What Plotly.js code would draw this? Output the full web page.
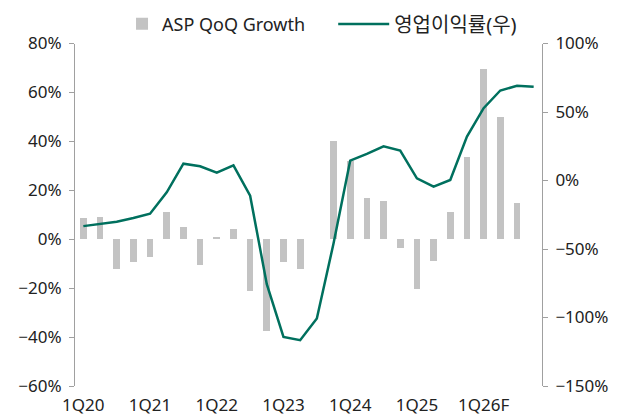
<!DOCTYPE html>
<html>
<head>
<meta charset="utf-8">
<script src="https://cdn.plot.ly/plotly-3.0.1.min.js"></script>
<style>html,body{margin:0;padding:0;background:#fff;}#chart{width:629px;height:419px;}</style>
</head>
<body>
<div id="chart"></div>
<script>
// Quarter categories
const quarters = ['1Q20','2Q20','3Q20','4Q20','1Q21','2Q21','3Q21','4Q21',
  '1Q22','2Q22','3Q22','4Q22','1Q23','2Q23','3Q23','4Q23',
  '1Q24','2Q24','3Q24','4Q24','1Q25','2Q25','3Q25','4Q25',
  '1Q26F','2Q26F','3Q26F','4Q26F'];
// ASP QoQ Growth (%), left axis
const aspGrowth = [8.6, 9.1, -12.2, -9.3, -7.1, 11.3, 4.9, -10.4,
  1.1, 4.2, -21.0, -37.4, -9.4, -12.0, null, 40.1,
  32.1, 17.0, 15.8, -3.7, -20.2, -9.0, 11.0, 33.5,
  69.5, 49.9, 14.9, null];
// 영업이익률 (%), right axis
const opMargin = [-33.3, -31.6, -30.1, -27.4, -24.2, -8.6, 12.3, 10.4,
  5.7, 11.1, -11.1, -75.7, -114.2, -116.6, -100.7, -46.0,
  14.5, 19.4, 25.0, 21.8, 1.6, -4.5, 0.4, 32.0,
  52.8, 65.7, 69.1, 68.4];
const leftTicks = [-60, -40, -20, 0, 20, 40, 60, 80];
const rightTicks = [-150, -100, -50, 0, 50, 100];

const pct = v => (v < 0 ? '\u2212' + Math.abs(v) : String(v)) + '%';
const idx = quarters.map((q, i) => i);
const labelIdx = idx.filter(i => quarters[i].startsWith('1Q'));
const labelText = labelIdx.map(i => quarters[i]);
const boundaryIdx = labelIdx.slice(1).map(i => i - 0.5);

const FONT = '"Noto Sans", "Noto Sans CJK KR", sans-serif';
const AXC = '#a0a0a0';
const TXT = '#222222';

const traces = [
  {
    type: 'bar', x: idx, y: aspGrowth, name: 'ASP QoQ Growth',
    marker: {color: '#c3c3c3'}, width: 0.4, yaxis: 'y', legend: 'legend',
    hoverinfo: 'skip'
  },
  {
    type: 'scatter', mode: 'lines', x: idx, y: opMargin, name: '영업이익률(우)',
    line: {color: '#00705e', width: 2.5}, yaxis: 'y2', legend: 'legend2',
    hoverinfo: 'skip'
  }
];

const range = [-0.5, quarters.length - 0.5];
const layout = {
  width: 629, height: 419,
  margin: {l: 75, r: 87.3, t: 43, b: 33},
  paper_bgcolor: '#fff', plot_bgcolor: '#fff',
  font: {family: FONT, size: 17, color: TXT},
  showlegend: true,
  bargap: 0,
  xaxis: {
    range: range, tickmode: 'array', tickvals: labelIdx, ticktext: labelText,
    showline: false, showgrid: false, zeroline: false, ticks: '',
    ticklabelstandoff: 7,
    tickfont: {size: 17, color: TXT}, fixedrange: true
  },
  xaxis2: {
    range: range, overlaying: 'x', anchor: 'free',
    position: (0 - leftTicks[0]) / (leftTicks[leftTicks.length - 1] - leftTicks[0]),
    showline: true, linecolor: AXC, linewidth: 1,
    tickmode: 'array', tickvals: boundaryIdx, ticks: 'outside', ticklen: 5,
    tickcolor: AXC, showticklabels: false, showgrid: false, zeroline: false
  },
  yaxis: {
    range: [leftTicks[0], leftTicks[leftTicks.length - 1]],
    tickmode: 'array', tickvals: leftTicks, ticktext: leftTicks.map(pct),
    showline: true, linecolor: AXC, ticks: 'outside', ticklen: 5, tickcolor: AXC,
    showgrid: false, zeroline: false, ticklabelstandoff: 4,
    tickfont: {size: 17, color: TXT}
  },
  yaxis2: {
    range: [rightTicks[0], rightTicks[rightTicks.length - 1]],
    overlaying: 'y', side: 'right',
    tickmode: 'array', tickvals: rightTicks, ticktext: rightTicks.map(pct),
    showline: true, linecolor: AXC, ticks: 'outside', ticklen: 5, tickcolor: AXC,
    showgrid: false, zeroline: false, ticklabelstandoff: 4,
    tickfont: {size: 17, color: TXT}
  },
  legend: {
    orientation: 'h', x: 0.1007, xref: 'paper', y: 1 - 24 / 419, yref: 'container',
    xanchor: 'left', yanchor: 'middle',
    font: {size: 18, color: TXT}, bgcolor: 'rgba(0,0,0,0)'
  },
  legend2: {
    orientation: 'h', x: 0.5529, xref: 'paper', y: 1 - 24 / 419, yref: 'container',
    xanchor: 'left', yanchor: 'middle', itemwidth: 51,
    font: {size: 20, color: TXT}, bgcolor: 'rgba(0,0,0,0)'
  }
};

Plotly.newPlot('chart', traces, layout, {displayModeBar: false, staticPlot: true});
</script>
</body>
</html>
